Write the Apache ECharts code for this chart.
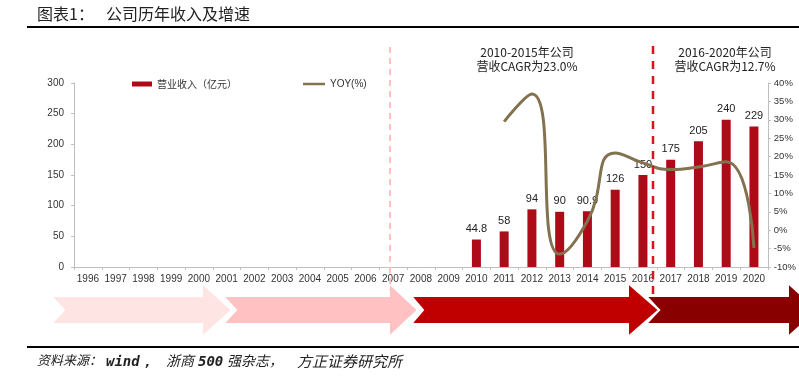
<!DOCTYPE html>
<html><head><meta charset="utf-8">
<script src="https://cdn.jsdelivr.net/npm/echarts@6/dist/echarts.min.js"></script>
<style>html,body{margin:0;padding:0;background:#fff}#c{width:799px;height:383px}</style>
</head><body><div id="c"></div>
<script>
var years = ['1996','1997','1998','1999','2000','2001','2002','2003','2004','2005','2006','2007','2008','2009','2010','2011','2012','2013','2014','2015','2016','2017','2018','2019','2020'];
var revenue = [null,null,null,null,null,null,null,null,null,null,null,null,null,null,44.8,58,94,90,90.9,126,150,175,205,240,229];
var yoy = [null,null,null,null,null,null,null,null,null,null,null,null,null,null,null,29.5,37,-6.5,2.5,21,18.3,16.5,17.2,18.6,-4.8];
var leftTicks = [0,300,50];
var rightTicks = [-10,40,5];

var CJK = '"Noto Sans CJK SC", sans-serif';
var LAT = '"Liberation Sans", Arial, sans-serif';
var MONO = '"DejaVu Sans Mono", "Liberation Mono", monospace';

function arrow(L, n, R, T, color, z) {
  var bt = 296, bb = 324, ht = 283, hb = 337, mid = 310;
  return {
    type: 'polygon', z: z, silent: true,
    shape: { points: [[L, bt], [R, bt], [R, ht], [T, mid], [R, hb], [R, bb], [L, bb], [L + n, mid]] },
    style: { fill: color, stroke: '#fff', lineWidth: 2 }
  };
}

var chart = echarts.init(document.getElementById('c'));
chart.setOption({
  animation: false,
  backgroundColor: '#fff',
  grid: { left: 74, right: 29, top: 83, bottom: 116 },
  legend: [
    { data: [{ name: '营业收入（亿元）', icon: 'rect' }], left: 127, top: 74, itemWidth: 20, itemHeight: 5,
      textStyle: { fontFamily: CJK, fontSize: 10, color: '#333' } },
    { data: [{ name: 'YOY(%)', icon: 'rect' }], left: 298, top: 74, itemWidth: 22, itemHeight: 2.5,
      textStyle: { fontFamily: '"Liberation Sans Narrow", ' + LAT, fontSize: 10, color: '#333' } }
  ],
  xAxis: {
    type: 'category', data: years,
    axisLine: { lineStyle: { color: '#BFBFBF' } },
    axisTick: { show: true, length: 3, lineStyle: { color: '#BFBFBF' } },
    axisLabel: { fontFamily: LAT, fontSize: 10, color: '#333', margin: 7, interval: 0 }
  },
  yAxis: [
    { type: 'value', min: leftTicks[0], max: leftTicks[1], interval: leftTicks[2], splitLine: { show: false },
      axisLine: { show: true, lineStyle: { color: '#BFBFBF' } },
      axisTick: { show: true, length: 3, lineStyle: { color: '#BFBFBF' } },
      axisLabel: { fontFamily: LAT, fontSize: 10, color: '#333', margin: 10 } },
    { type: 'value', min: rightTicks[0], max: rightTicks[1], interval: rightTicks[2], splitLine: { show: false },
      position: 'right',
      axisLine: { show: true, lineStyle: { color: '#BFBFBF' } },
      axisTick: { show: true, length: 3, lineStyle: { color: '#BFBFBF' } },
      axisLabel: { fontFamily: LAT, fontSize: 9.5, color: '#333', margin: 6, formatter: '{value}%' } }
  ],
  series: [
    { name: '营业收入（亿元）', type: 'bar', data: revenue, barWidth: 9, itemStyle: { color: '#AE0A18' },
      label: { show: true, position: 'top', distance: 5, fontFamily: LAT, fontSize: 11, color: '#222' } },
    { name: 'YOY(%)', type: 'line', yAxisIndex: 1, data: yoy, smooth: 0.55, symbol: 'none', connectNulls: false,
      lineStyle: { color: '#83724F', width: 3 }, itemStyle: { color: '#83724F' }, z: 3 }
  ],
  graphic: [
    { type: 'text', left: 37, top: 6, style: { text: '图表1：', font: '16px ' + CJK, fill: '#222' } },
    { type: 'text', left: 106, top: 6, style: { text: '公司历年收入及增速', font: '16px ' + CJK, fill: '#222' } },
    { type: 'rect', shape: { x: 27, y: 26, width: 772, height: 2 }, style: { fill: '#000' } },
    { type: 'text', x: 527, y: 52, style: { text: '2010-2015年公司', font: '12px ' + CJK, fill: '#222', align: 'center', verticalAlign: 'middle' } },
    { type: 'text', x: 527, y: 66, style: { text: '营收CAGR为23.0%', font: '12px ' + CJK, fill: '#222', align: 'center', verticalAlign: 'middle' } },
    { type: 'text', x: 725, y: 52, style: { text: '2016-2020年公司', font: '12px ' + CJK, fill: '#222', align: 'center', verticalAlign: 'middle' } },
    { type: 'text', x: 725, y: 66, style: { text: '营收CAGR为12.7%', font: '12px ' + CJK, fill: '#222', align: 'center', verticalAlign: 'middle' } },
    arrow(646, 13, 788, 818, '#880000', 1),
    arrow(51, 13, 202, 232, '#FFE4E4', 2),
    arrow(223, 13, 389, 418, '#FFC1C1', 3),
    arrow(411, 12, 628, 659, '#C00000', 4),
    { type: 'line', z: 20, shape: { x1: 390, y1: 47, x2: 390, y2: 290 }, style: { stroke: '#FFC0C0', lineWidth: 2, lineDash: [6, 5] } },
    { type: 'line', z: 20, shape: { x1: 653, y1: 46, x2: 653, y2: 300 }, style: { stroke: '#D8141E', lineWidth: 2.5, lineDash: [8, 7] } },
    { type: 'rect', shape: { x: 27, y: 346, width: 772, height: 2 }, style: { fill: '#000' } },
    { type: 'text', left: 37, top: 354, style: { text: '资料来源：', font: 'italic 13px ' + CJK, fill: '#222' } },
    { type: 'text', left: 106, top: 355, style: { text: 'wind，', font: 'italic bold 14px ' + MONO, fill: '#222' } },
    { type: 'text', left: 166, top: 354, style: { text: '浙商', font: 'italic 14px ' + CJK, fill: '#222' } },
    { type: 'text', left: 198, top: 355, style: { text: '500', font: 'italic bold 14px ' + MONO, fill: '#222' } },
    { type: 'text', left: 227, top: 354, style: { text: '强杂志，', font: 'italic 14px ' + CJK, fill: '#222' } },
    { type: 'text', left: 297, top: 354, style: { text: '方正证券研究所', font: 'italic 15px ' + CJK, fill: '#222' } }
  ]
});
</script></body></html>
